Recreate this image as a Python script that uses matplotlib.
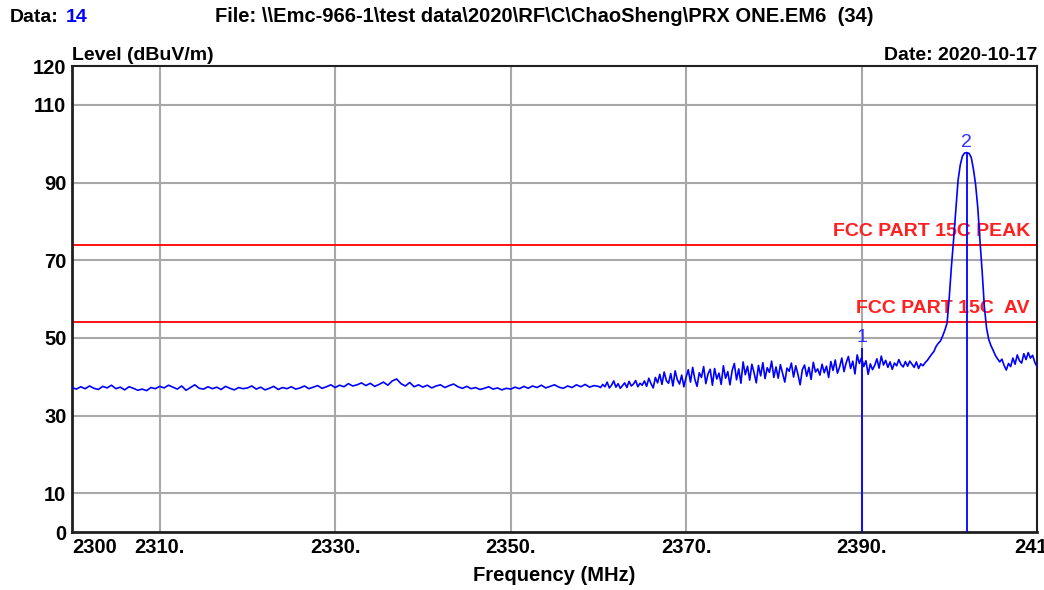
import numpy as np
import matplotlib
matplotlib.use('Agg')
from matplotlib import pyplot as plt

plt.rcParams['font.family'] = ['Liberation Sans', 'DejaVu Sans']

# Trace sampled at 0.5 MHz from 2300 to 2360
freq_low = np.arange(2300.0, 2360.01, 0.5)
level_low = [
    37.2, 36.8, 37.4, 36.9, 37.6, 37.0, 36.7, 37.5, 37.1, 37.8, 36.9, 37.3, 36.6, 37.4, 37.0, 36.5, 36.8, 36.4, 37.2, 36.9,
    37.5, 37.1, 37.8, 37.3, 36.8, 37.6, 36.5, 37.2, 37.9, 37.0, 36.8, 37.4, 36.9, 37.3, 36.7, 37.5, 37.0, 36.6, 37.2, 36.9,
    37.1, 37.6, 36.8, 37.3, 36.6, 37.0, 37.5, 36.7, 37.2, 36.9, 37.4, 36.8, 37.1, 37.6, 36.9, 37.3, 37.7, 37.0, 37.4, 37.9,
    37.2, 37.8, 37.4, 38.2, 37.6, 37.9, 38.4, 37.7, 38.3, 37.5, 38.0, 38.6, 37.8, 38.9, 39.4, 38.2, 37.6, 38.5, 37.4, 37.9,
    37.3, 37.8, 37.1, 37.6, 37.9, 37.2, 37.7, 38.1, 37.4, 37.0, 37.5, 36.9, 37.2, 36.7, 37.0, 37.4, 36.8, 37.1, 36.6, 37.0,
    36.8, 37.3, 36.9, 37.5, 37.0, 37.6, 37.2, 37.8, 37.1, 37.5, 37.9, 37.3, 37.0, 37.6, 37.2, 37.9, 37.4, 38.0, 37.3, 37.7,
    37.5,
]

# Trace sampled at 0.25 MHz from 2360.25 to 2410
freq_high = np.arange(2360.25, 2410.01, 0.25)
level_high = [
    37.2, 38.0, 37.4, 38.6, 37.1, 37.8, 38.9, 37.3, 38.2, 37.0, 37.7, 38.4, 37.2, 38.8, 37.6, 38.1, 39.0, 37.4, 38.3, 37.8,
    38.9, 37.5, 39.6, 38.2, 37.1, 39.8, 38.4, 40.6, 38.0, 41.2, 39.0, 38.3, 40.8, 37.6, 41.5, 39.2, 38.1, 40.4, 37.4, 39.9,
    41.8, 38.6, 42.4, 39.3, 37.5, 41.0, 39.8, 42.6, 38.2, 40.7, 41.9, 37.8, 42.1, 39.4, 40.9, 38.0, 42.8, 39.6, 41.3, 37.9,
    41.6, 43.4, 39.2, 42.0, 38.3, 43.8, 40.5, 42.7, 39.1, 43.2, 41.0, 38.4, 42.9, 40.2, 43.6, 39.5, 42.3, 41.1, 44.0, 39.8,
    42.5, 39.6, 43.1, 40.8, 38.6, 42.2, 41.4, 43.5, 39.9, 42.8, 40.6, 37.9, 41.8, 43.0, 40.1, 42.4, 39.3, 43.7, 41.2, 42.0,
    40.4, 43.2, 41.0, 42.7, 39.8, 43.9, 41.6, 44.3, 40.9, 42.5, 44.8, 41.3, 43.6, 45.2, 42.1, 44.0, 40.7, 45.6, 43.4, 44.9,
    42.6, 44.1, 40.6, 43.3, 41.8, 42.9, 44.6, 42.2, 45.3, 43.0, 44.2, 42.4, 43.8, 41.9, 43.5, 42.8, 44.4, 43.1, 42.5, 43.9,
    42.7, 44.0, 43.2, 42.4, 43.8, 42.1, 43.3, 42.8, 43.6, 44.2, 45.0, 45.8, 46.5, 47.8, 48.6, 49.2, 50.5, 52.0, 53.8, 60.5,
    68.5, 75.5, 83.0, 90.5, 94.5, 96.8, 97.6, 97.7, 97.5, 96.5, 93.5, 89.5, 83.5, 75.0, 67.0, 58.0, 52.5, 49.6, 48.0, 46.8,
    45.5, 44.6, 43.8, 44.5, 42.9, 41.7, 43.4, 42.6, 44.8, 43.2, 45.6, 44.1, 43.5, 45.9, 44.4, 46.2, 44.8, 45.5, 43.7, 42.6,
]

freq = np.concatenate([freq_low, freq_high])
level = np.array(level_low + level_high)

# limit lines
limit_names = ['FCC PART 15C PEAK', 'FCC PART 15C  AV']
limit_levels = [74, 54]

# markers
marker_labels = ['1', '2']
marker_freqs = [2390.0, 2402.0]
marker_levels = [47.5, 97.7]

x_ticks = [2300, 2310, 2330, 2350, 2370, 2390, 2410]
x_ticklabels = ['2300', '2310.', '2330.', '2350.', '2370.', '2390.', '2410']
y_ticks = [0, 10, 30, 50, 70, 90, 110, 120]

fig = plt.figure(figsize=(10.44, 5.90), dpi=100)
ax = fig.add_axes([72 / 1044, 1 - 532 / 590, 965 / 1044, 466 / 590])

for x in x_ticks[1:-1]:
    ax.axvline(x, color='#a8a8a8', lw=1.5, zorder=1)
for y in y_ticks[1:-1]:
    ax.axhline(y, color='#a8a8a8', lw=1.5, zorder=1)

for name, lim in zip(limit_names, limit_levels):
    ax.axhline(lim, color='#ff0000', lw=1.3, zorder=2)
    ax.text(2409.2, lim + 1.3, name, color='#ff2020', fontsize=14, fontweight='bold',
            ha='right', va='bottom', zorder=2)

ax.plot(freq, level, color='#0000ff', lw=1.2, zorder=3)

for lab, mf, ml in zip(marker_labels, marker_freqs, marker_levels):
    ax.vlines(mf, 0, ml, color='#0000ff', lw=1.3, zorder=4)
    ax.text(mf, ml + 0.5, lab, color='#3030ff', fontsize=14, ha='center', va='bottom', zorder=4)

ax.set_xlim(2300, 2410)
ax.set_ylim(0, 120)
ax.set_xticks(x_ticks)
ax.set_xticklabels(x_ticklabels)
ax.set_yticks(y_ticks)
ax.tick_params(length=0, labelsize=14.5, pad=4)
for t in ax.get_xticklabels() + ax.get_yticklabels():
    t.set_fontweight('bold')
ax.get_xticklabels()[0].set_horizontalalignment('left')
for s in ax.spines.values():
    s.set_color('#202020')
    s.set_linewidth(1.5)
ax.spines['left'].set_linewidth(2)
ax.spines['bottom'].set_linewidth(2)

ax.set_xlabel('Frequency (MHz)', fontsize=14.5, fontweight='bold', labelpad=7)
ax.text(0, 1.004, 'Level (dBuV/m)', transform=ax.transAxes, fontsize=14,
        fontweight='bold', ha='left', va='bottom')
ax.text(1, 1.004, 'Date: 2020-10-17', transform=ax.transAxes, fontsize=14,
        fontweight='bold', ha='right', va='bottom')

fig.text(10 / 1044, 1 - 22 / 590, 'Data:', fontsize=14, fontweight='bold',
         ha='left', va='baseline')
fig.text(66 / 1044, 1 - 22 / 590, '14', fontsize=14, fontweight='bold',
         color='#0000ff', ha='left', va='baseline')
fig.text(215 / 1044, 1 - 22 / 590,
         'File: \\\\Emc-966-1\\test data\\2020\\RF\\C\\ChaoSheng\\PRX ONE.EM6  (34)',
         fontsize=14.5, fontweight='bold', ha='left', va='baseline')

fig.savefig('out.png', dpi=100)
